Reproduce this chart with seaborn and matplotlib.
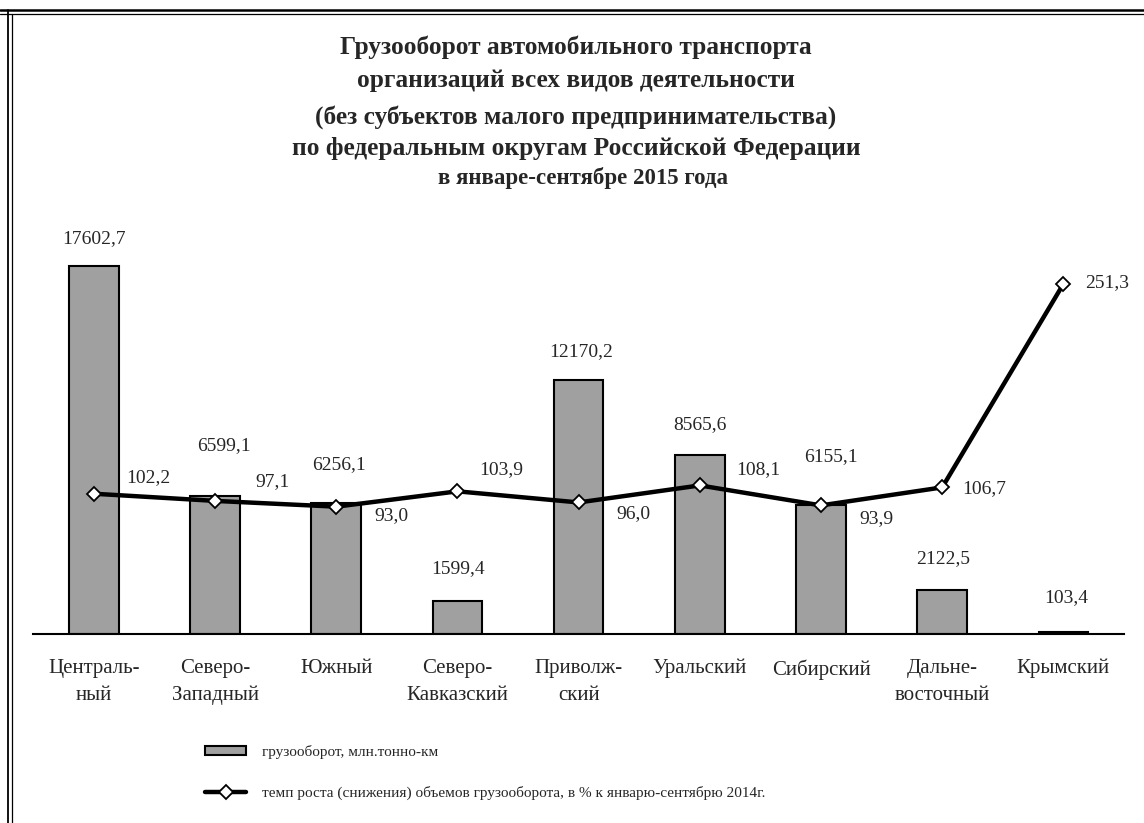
import matplotlib
matplotlib.use("Agg")
import matplotlib.pyplot as plt
from matplotlib.lines import Line2D
from matplotlib.patches import Patch
import seaborn as sns
import numpy as np
import pandas as pd

regions = ['Централь-\nный', 'Северо-\nЗападный', 'Южный', 'Северо-\nКавказский',
           'Приволж-\nский', 'Уральский', 'Сибирский', 'Дальне-\nвосточный', 'Крымский']
freight = [17602.7, 6599.1, 6256.1, 1599.4, 12170.2, 8565.6, 6155.1, 2122.5, 103.4]
growth = [102.2, 97.1, 93.0, 103.9, 96.0, 108.1, 93.9, 106.7, 251.3]

title_lines = ['Грузооборот автомобильного транспорта',
               'организаций всех видов деятельности',
               '(без субъектов малого предпринимательства)',
               'по федеральным округам Российской Федерации']
subtitle = 'в январе-сентябре 2015 года'
legend_labels = ['грузооборот, млн.тонно-км',
                 'темп роста (снижения) объемов грузооборота, в % к январю-сентябрю 2014г.']

# label offsets in pixels (dx, dy)
bar_offsets = [(0, 28), (9, 50), (3, 39), (1, 32), (3, 28), (0, 30), (10, 49), (1, 31), (3, 34)]
line_offsets = [(54, 16), (57, 19), (55, -9), (44, 22), (55, -11), (58, 16), (55, -13), (42, -1), (44, 1)]

df = pd.DataFrame({'region': regions, 'freight': freight, 'growth': growth})

sns.set_style('white')
plt.rcParams['font.family'] = ['Liberation Serif', 'DejaVu Serif']

W, H = 1144, 823
fig = plt.figure(figsize=(W / 100, H / 100), dpi=100)
ax = fig.add_axes([33.3 / W, 1 - 634 / H, 1090.7 / W, 404 / H])

bar_gray = '#a0a0a0'
sns.barplot(data=df, x='region', y='freight', color=bar_gray, saturation=1,
            edgecolor='black', linewidth=1.5, width=0.41, ax=ax)
ax.set_xlim(-0.5, len(regions) - 0.5)
ax.set_ylim(0, 404 / 0.02090)

for s in ['left', 'right', 'top']:
    ax.spines[s].set_visible(False)
ax.spines['bottom'].set_linewidth(1.5)
ax.spines['bottom'].set_color('black')
ax.set_yticks([])
ax.set_xlabel('')
ax.set_ylabel('')
ax.set_xticks(np.arange(len(regions)))
ax.set_xticklabels(regions, fontsize=15, linespacing=1.55)
ax.set_xticks(np.arange(len(regions) + 1) - 0.5, minor=True)
ax.tick_params(axis='x', which='major', length=0, pad=18)
ax.tick_params(axis='x', which='minor', direction='inout', length=10, width=1.5, color='black')

for i, v in enumerate(freight):
    dx, dy = bar_offsets[i]
    ax.annotate(f'{v:.1f}'.replace('.', ','), (i, v), xytext=(dx, dy),
                textcoords='offset pixels', ha='center', va='center', fontsize=14)

ax2 = ax.twinx()
ax2.set_position(ax.get_position())
sns.lineplot(x=np.arange(len(regions)), y=growth, color='black', linewidth=3.2,
             marker='D', markersize=7, markerfacecolor='white',
             markeredgecolor='black', markeredgewidth=1.3, ax=ax2)
ax2.set_ylim(2.5, 2.5 + 404 / 1.407)
ax2.set_yticks([])
for s in ax2.spines.values():
    s.set_visible(False)

for i, v in enumerate(growth):
    dx, dy = line_offsets[i]
    ax2.annotate(f'{v:.1f}'.replace('.', ','), (i, v), xytext=(dx, dy),
                 textcoords='offset pixels', ha='center', va='center', fontsize=14)

title_y = [47, 80, 117, 149]
for line, y in zip(title_lines, title_y):
    fig.text(576 / W, 1 - y / H, line, ha='center', va='center',
             fontsize=18.3, fontweight='bold')
fig.text(583 / W, 1 - 178 / H, subtitle, ha='center', va='center',
         fontsize=16.5, fontweight='bold')

handles = [Patch(facecolor=bar_gray, edgecolor='black', linewidth=1.5),
           Line2D([], [], color='black', linewidth=3.2, marker='D', markersize=7,
                  markerfacecolor='white', markeredgecolor='black', markeredgewidth=1.3)]
fig.legend(handles, legend_labels, loc='upper left', bbox_to_anchor=(205 / W, 1 - 745 / H),
           frameon=False, fontsize=11, handlelength=2.7, handleheight=0.55,
           handletextpad=1.0, labelspacing=1.75, borderpad=0, borderaxespad=0)

# double frame on top and left edges
for y, lw in [(10, 1.8), (13.5, 0.9)]:
    fig.add_artist(Line2D([0, 1], [1 - y / H, 1 - y / H], color='black', linewidth=lw))
for x, lw in [(8, 1.3), (11.5, 0.9)]:
    fig.add_artist(Line2D([x / W, x / W], [0, 1 - (10 if x < 10 else 13.5) / H],
                          color='black', linewidth=lw))

fig.savefig('out.png', dpi=100)
